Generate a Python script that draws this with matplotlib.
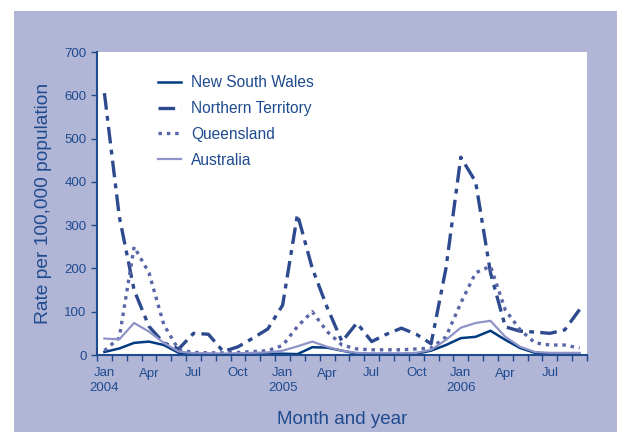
import matplotlib.pyplot as plt
from matplotlib.patches import Rectangle

plt.rcParams['font.family'] = ['Liberation Sans', 'DejaVu Sans']
plt.rcParams['lines.scale_dashes'] = False

# monthly rates, Jan 2004 .. Sep 2006
months = ['Jan', 'Feb', 'Mar', 'Apr', 'May', 'Jun', 'Jul', 'Aug', 'Sep', 'Oct', 'Nov', 'Dec']
years = [2004, 2005, 2006]
n_months = 33

nsw = [7, 15, 28, 31, 23, 5, 2, 2, 2, 2, 2, 3,
       3, 2, 18, 17, 10, 3, 2, 2, 2, 3, 10, 23,
       39, 42, 56, 35, 16, 5, 3, 3, 3]
nt = [605, 320, 150, 66, 28, 14, 50, 48, 8, 19, 39, 60,
      115, 325, 200, 110, 31, 74, 31, 48, 62, 48, 26, 200,
      457, 400, 190, 65, 55, 53, 50, 58, 105]
qld = [10, 40, 250, 190, 70, 12, 6, 5, 5, 6, 8, 10,
       22, 66, 100, 54, 23, 14, 12, 12, 12, 14, 16, 42,
       120, 190, 205, 104, 58, 28, 23, 23, 16]
aus = [38, 36, 74, 54, 28, 8, 4, 4, 3, 4, 5, 6,
       10, 20, 31, 19, 10, 5, 4, 4, 4, 5, 12, 35,
       63, 74, 79, 42, 19, 7, 5, 5, 5]

text_c = '#1f4b8f'
bg_c = '#b1b5d6'

fig = plt.figure(figsize=(6.17, 4.32), dpi=100)
fig.patch.set_facecolor('white')
fig.add_artist(Rectangle((14 / 617, 0), 603 / 617, 421 / 432,
                         transform=fig.transFigure, facecolor=bg_c,
                         edgecolor='none', zorder=-10))

ax = fig.add_axes([97 / 617, 1 - 355 / 432, 490 / 617, 303 / 432])
ax.set_facecolor('white')

x = list(range(n_months))
ax.plot(x, nsw, color='#003a80', lw=1.8, label='New South Wales')
ax.plot(x, nt, color='#2e4a8e', lw=2.4, dashes=(12, 4.5, 3.5, 4.5),
        label='Northern Territory')
ax.plot(x, qld, color='#5865a8', lw=2.4, dashes=(2.5, 3.5), label='Queensland')
ax.plot(x, aus, color='#8f94c8', lw=1.6, label='Australia')

ax.set_xlim(-0.5, n_months - 0.5)
ax.set_ylim(0, 700)
ax.set_yticks(range(0, 701, 100))

labels = []
for i in range(0, n_months, 3):
    m = months[i % 12]
    if m == 'Jan':
        labels.append('%s\n%d' % (m, years[i // 12]))
    else:
        labels.append(m)
ax.set_xticks(range(0, n_months, 3))
ax.set_xticklabels(labels, linespacing=1.3)
ax.set_xticks([i - 0.5 for i in range(n_months + 1)], minor=True)
ax.tick_params(axis='x', which='major', length=0, pad=9, labelsize=9.5, colors=text_c)
ax.tick_params(axis='x', which='minor', length=4, width=1, color=text_c, direction='out')
ax.tick_params(axis='y', length=4, width=1, labelsize=9.5, colors=text_c, direction='out')

for s in ['top', 'right']:
    ax.spines[s].set_visible(False)
for s in ['left', 'bottom']:
    ax.spines[s].set_color(text_c)
    ax.spines[s].set_linewidth(1.5)

ax.set_ylabel('Rate per 100,000 population', fontsize=13.8, color=text_c, labelpad=9)
ax.set_xlabel('Month and year', fontsize=13.5, color=text_c, labelpad=12)

leg = ax.legend(loc='upper left', bbox_to_anchor=(0.095, 0.97), frameon=False,
                fontsize=11.2, handlelength=1.5, labelspacing=0.7, handletextpad=0.65)
for t in leg.get_texts():
    t.set_color(text_c)

fig.savefig('out.png', dpi=100)
